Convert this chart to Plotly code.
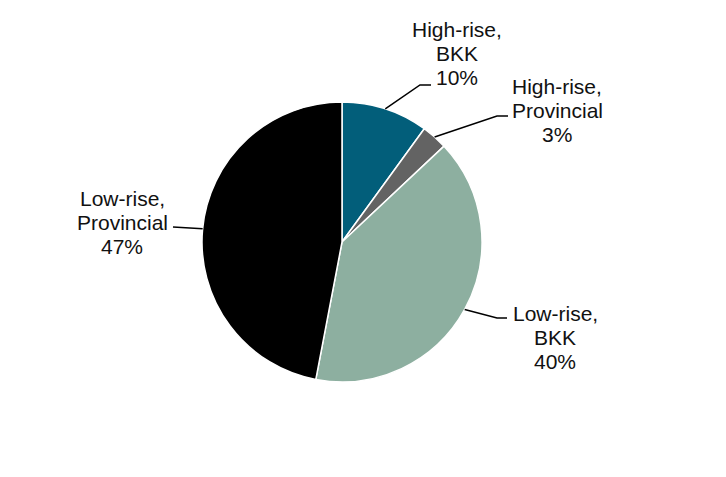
import math
import plotly.graph_objects as go

categories = ["High-rise,<br>BKK", "High-rise,<br>Provincial", "Low-rise,<br>BKK", "Low-rise,<br>Provincial"]
values = [10, 3, 40, 47]
colors = ["#025E7A", "#636363", "#8DAFA0", "#000000"]

W, H = 726, 477
cx, cy, R = 342, 242, 140
LINE_H = 24
FONT_SIZE = 21

# label layout (pixels): elbow point, line end, label centre (middle line)
label_layout = [
    dict(elbow=(420, 85), end=(431, 85), text=(457, 54)),
    dict(elbow=(497, 116), end=(508, 116), text=(557, 111)),
    dict(elbow=(497, 318), end=(507, 318), text=(555, 337)),
    dict(elbow=(173, 227), end=(173, 227), text=(122, 222)),
]

fig = go.Figure()
fig.add_trace(go.Pie(
    labels=categories, values=values, sort=False, direction="clockwise", rotation=0,
    marker=dict(colors=colors, line=dict(color="white", width=1.5)),
    textinfo="none", hoverinfo="label+percent", showlegend=False,
    domain=dict(x=[(cx - R) / W, (cx + R) / W], y=[(H - cy - R) / H, (H - cy + R) / H]),
))

def px(x, y):
    return x / W, 1 - y / H

total = sum(values)
cum = 0
shapes, annotations = [], []
for cat, v, lay in zip(categories, values, label_layout):
    mid = (cum + v / 2) / total * 2 * math.pi
    cum += v
    ax, ay = cx + R * math.sin(mid), cy - R * math.cos(mid)
    pts = [px(ax, ay), px(*lay["elbow"]), px(*lay["end"])]
    path = "M {} {} L {} {} L {} {}".format(pts[0][0], pts[0][1], pts[1][0], pts[1][1], pts[2][0], pts[2][1])
    shapes.append(dict(type="path", path=path, xref="paper", yref="paper",
                       line=dict(color="black", width=1.5)))
    pct = round(v / total * 100)
    lines = cat.split("<br>") + [f"{pct}%"]
    n = len(lines)
    for i, line in enumerate(lines):
        tx, ty = px(lay["text"][0], lay["text"][1] + (i - (n - 1) / 2) * LINE_H)
        annotations.append(dict(x=tx, y=ty, xref="paper", yref="paper", showarrow=False,
                                text=line, align="center",
                                xanchor="center", yanchor="middle",
                                font=dict(family="Liberation Sans, Arial", size=FONT_SIZE, color="#111111")))

fig.update_layout(
    width=W, height=H, margin=dict(l=0, r=0, t=0, b=0),
    paper_bgcolor="white", plot_bgcolor="white",
    shapes=shapes, annotations=annotations,
)
fig.write_html("out.html")
